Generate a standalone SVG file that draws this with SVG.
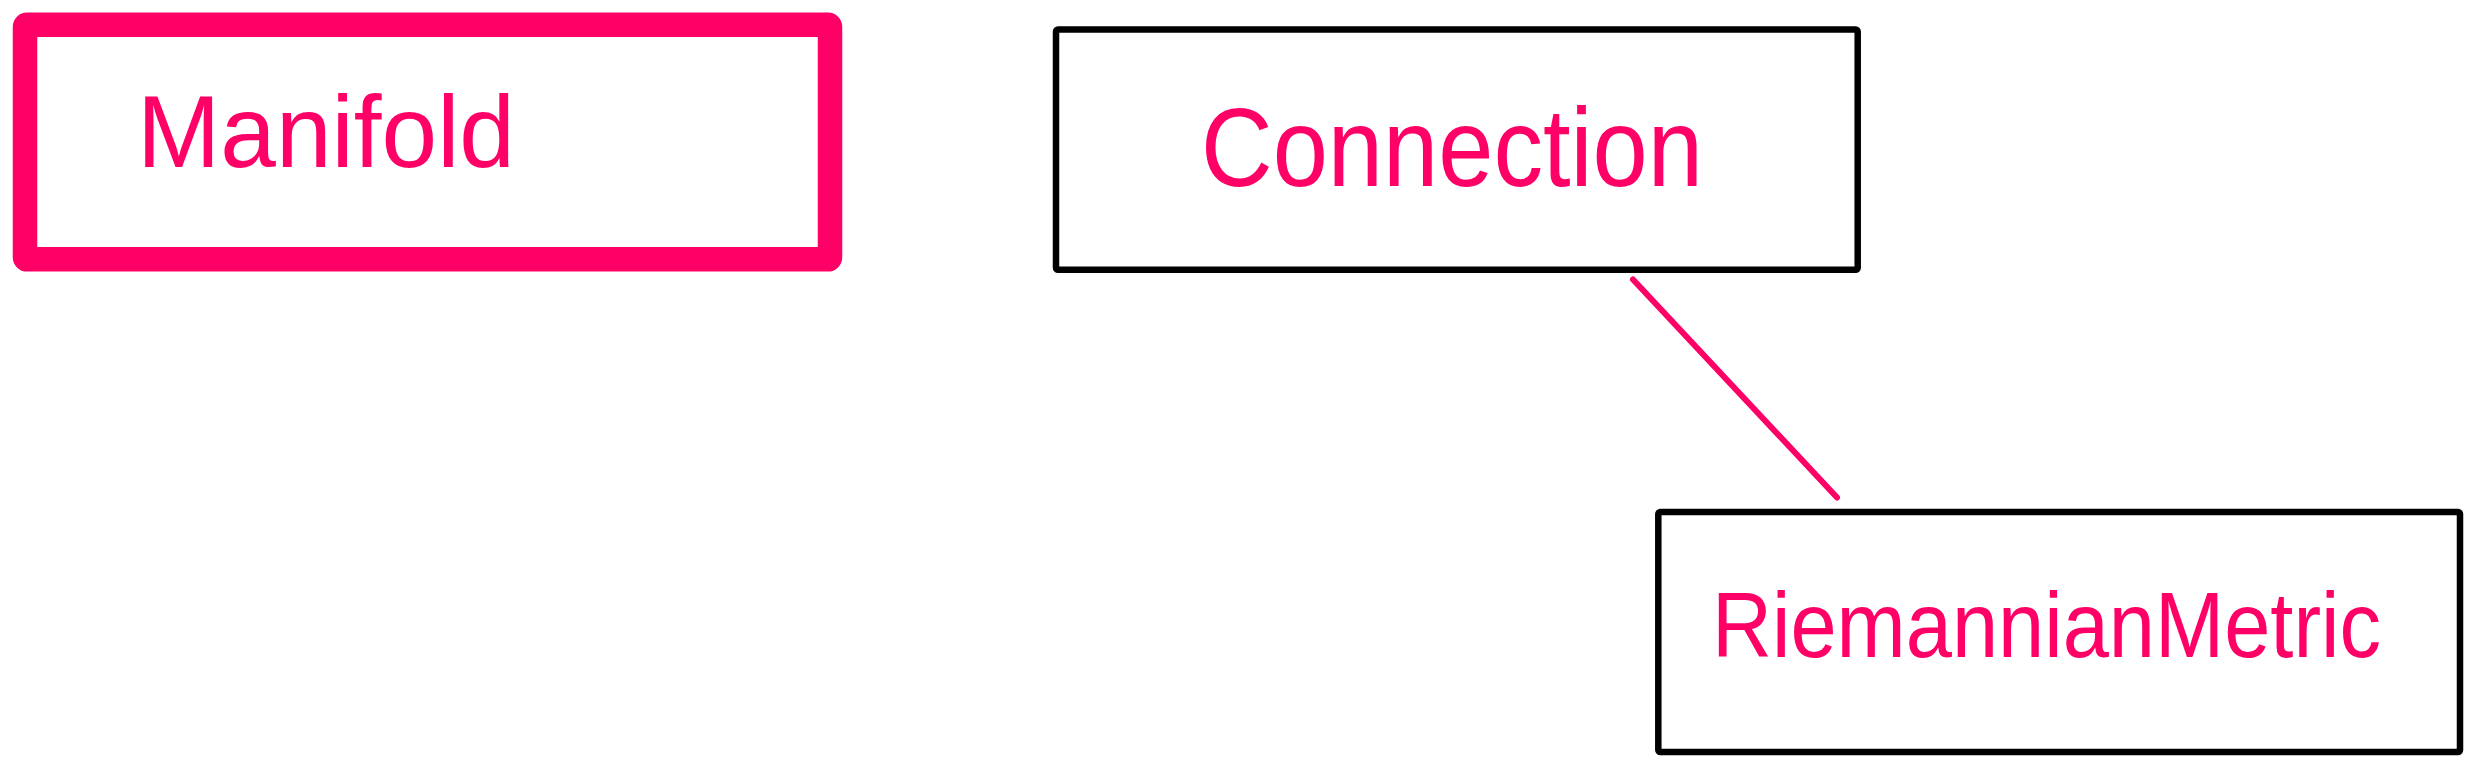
<svg xmlns="http://www.w3.org/2000/svg" width="2475" height="767" viewBox="0 0 2475 767">
<style>
.box{fill:#ffffff;stroke:#000000;stroke-width:6.5;stroke-linejoin:round}
.sel{fill:#ffffff;stroke:#ff0066;stroke-width:24.5;stroke-linejoin:round}
.lbl{fill:#ff0066;font-family:"Liberation Sans","DejaVu Sans",sans-serif}
.edge{stroke:#ff0066;stroke-width:6;stroke-linecap:round;fill:none}
</style>
<rect width="2475" height="767" fill="#ffffff"/>
<g id="connectors">
<line class="edge" x1="1633" y1="279.5" x2="1837" y2="497.5"/>
</g>
<g id="manifold">
<rect class="sel" x="25" y="24.8" width="805" height="234.5" rx="2"/>
<text class="lbl" x="137" y="167" font-size="102" textLength="378" lengthAdjust="spacingAndGlyphs">Manifold</text>
</g>
<g id="connection">
<rect class="box" x="1056" y="29.5" width="801.7" height="240.2" rx="2"/>
<text class="lbl" x="1201" y="186" font-size="112" textLength="502" lengthAdjust="spacingAndGlyphs">Connection</text>
</g>
<g id="riemannianmetric">
<rect class="box" x="1658.3" y="512" width="801.7" height="240" rx="2"/>
<text class="lbl" x="1712" y="657" font-size="92" textLength="669" lengthAdjust="spacingAndGlyphs">RiemannianMetric</text>
</g>
</svg>
